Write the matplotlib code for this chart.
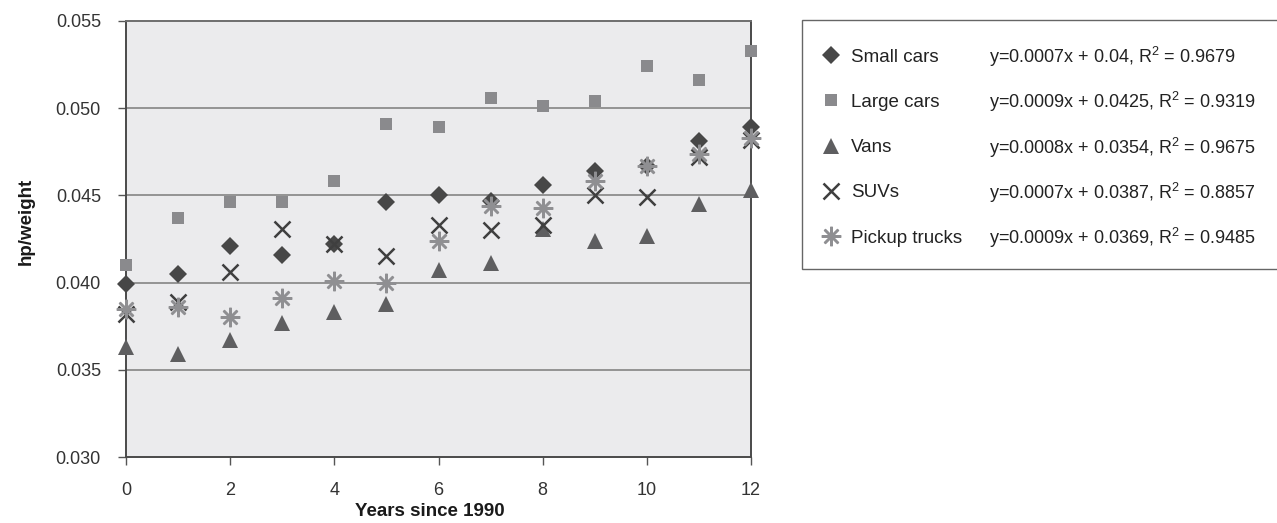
"""Power-to-weight ratio by vehicle class, 1990-2002, with linear fits."""
import matplotlib

matplotlib.use("Agg")
import matplotlib.pyplot as plt
from matplotlib.patches import Rectangle

plt.rcParams["font.family"] = ["Liberation Sans", "DejaVu Sans"]
plt.rcParams["mathtext.fontset"] = "custom"
plt.rcParams["mathtext.rm"] = "Liberation Sans"
plt.rcParams["mathtext.it"] = "Liberation Sans"

years = list(range(13))
small_cars = [0.0399, 0.0405, 0.0421, 0.0416, 0.0422, 0.0446, 0.0450,
              0.0447, 0.0456, 0.0464, 0.0467, 0.0481, 0.0489]
large_cars = [0.0410, 0.0437, 0.0446, 0.0446, 0.0458, 0.0491, 0.0489,
              0.0506, 0.0501, 0.0504, 0.0524, 0.0516, 0.0533]
vans = [0.0363, 0.0359, 0.0367, 0.0377, 0.0383, 0.0388, 0.0407,
        0.0411, 0.0431, 0.0424, 0.0427, 0.0445, 0.0453]
suvs = [0.0382, 0.0389, 0.0406, 0.0431, 0.0422, 0.0415, 0.0433,
        0.0430, 0.0433, 0.0450, 0.0449, 0.0472, 0.0482]
pickups = [0.0385, 0.0386, 0.0380, 0.0391, 0.0401, 0.0400, 0.0424,
           0.0444, 0.0443, 0.0458, 0.0467, 0.0474, 0.0483]

names = ["Small cars", "Large cars", "Vans", "SUVs", "Pickup trucks"]
equations = [
    "y=0.0007x + 0.04, R$^{2}$ = 0.9679",
    "y=0.0009x + 0.0425, R$^{2}$ = 0.9319",
    "y=0.0008x + 0.0354, R$^{2}$ = 0.9675",
    "y=0.0007x + 0.0387, R$^{2}$ = 0.8857",
    "y=0.0009x + 0.0369, R$^{2}$ = 0.9485",
]
y_ticks = [0.030, 0.035, 0.040, 0.045, 0.050, 0.055]
x_ticks = [0, 2, 4, 6, 8, 10, 12]

styles = [
    dict(marker="D", markersize=8.8, color="#474747", markeredgewidth=0),
    dict(marker="s", markersize=9.2, color="#8a8a8d", markeredgewidth=0),
    dict(marker="^", markersize=11.5, color="#5e5e60", markeredgewidth=0),
    dict(marker="x", markersize=11.5, color="#3f3f3f", markeredgewidth=1.8),
    dict(marker=(8, 2, 0), markersize=14, color="#8f8f92", markeredgewidth=1.8),
]
series = [small_cars, large_cars, vans, suvs, pickups]

W, H = 1277, 523
fig = plt.figure(figsize=(W / 100, H / 100), dpi=100)
ax = fig.add_axes([126 / W, 1 - 457 / H, 625 / W, 436 / H])
ax.set_facecolor("#ebebed")

handles = []
for values, name, style in zip(series, names, styles):
    (h,) = ax.plot(years, values, linestyle="none", label=name, clip_on=False,
                   zorder=3, **style)
    handles.append(h)

ax.set_xlim(0, 12)
ax.set_ylim(0.030, 0.055)
ax.set_xticks(x_ticks)
ax.set_yticks(y_ticks)
ax.set_yticklabels([f"{t:.3f}" for t in y_ticks])
for t in y_ticks[1:-1]:
    ax.axhline(t, color="#8c8c8c", linewidth=1.3, zorder=1)
for side in ["left", "bottom", "right", "top"]:
    ax.spines[side].set_color("#4a4a4a")
    ax.spines[side].set_linewidth(1.4)
ax.spines["top"].set_color("#6e6e6e")
ax.tick_params(axis="both", length=6, width=1, color="#555555",
               labelsize=13, labelcolor="#333333")
ax.tick_params(axis="x", pad=12)
ax.tick_params(axis="y", pad=12)
ax.set_xlabel("Years since 1990", fontsize=13.5, fontweight="bold",
              color="#1a1a1a")
ax.set_ylabel("hp/weight", fontsize=13.5, fontweight="bold",
              color="#1a1a1a")
ax.xaxis.set_label_coords(0.486, -0.1055)
ax.yaxis.set_label_coords(-0.1456, 0.541)

# legend box, open on the right like the original
fig.patches.append(Rectangle((802 / W, 1 - 269 / H), 0.45, 249 / H,
                             transform=fig.transFigure, facecolor="white",
                             edgecolor="#666666", linewidth=1.0, zorder=0))

legend = fig.legend(handles, names, loc="upper left",
                    bbox_to_anchor=(806 / W, 1 - 41 / H),
                    borderaxespad=0, frameon=False, fontsize=13.5,
                    handlelength=1.9, handletextpad=0.1, borderpad=0.4,
                    labelspacing=1.5, numpoints=1)
for text in legend.get_texts():
    text.set_color("#222222")

fig.canvas.draw()
inv = fig.transFigure.inverted()
for text, eq in zip(legend.get_texts(), equations):
    bb = text.get_window_extent()
    _, yc = inv.transform((0, (bb.y0 + bb.y1) / 2))
    fig.text(989 / W, yc, eq, fontsize=13, color="#222222", va="center",
             zorder=5)

fig.savefig("out.png", dpi=100)
